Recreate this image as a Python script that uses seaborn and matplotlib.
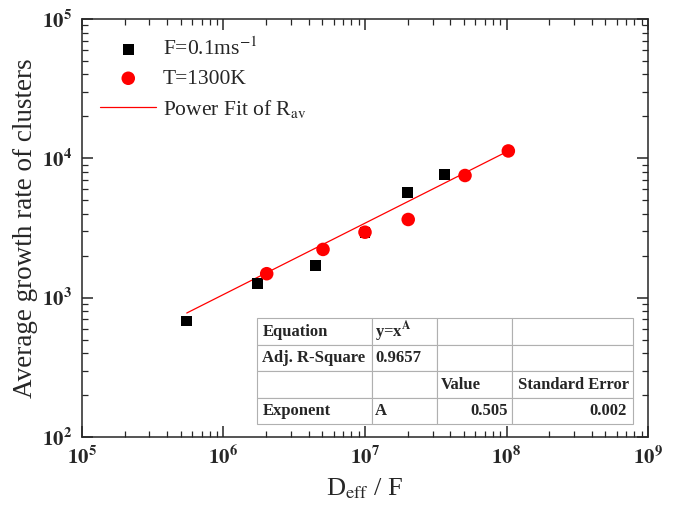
import numpy as np
import pandas as pd
import matplotlib
matplotlib.use("Agg")
import matplotlib.pyplot as plt
from matplotlib.ticker import LogLocator, FuncFormatter, NullFormatter
import seaborn as sns

# data
flux_x = [5.5e5, 1.75e6, 4.5e6, 1.0e7, 2.0e7, 3.66e7]
flux_y = [680, 1273, 1704, 2950, 5690, 7650]
temp_x = [2.02e6, 5.05e6, 1.0e7, 2.02e7, 5.09e7, 1.03e8]
temp_y = [1486, 2220, 2950, 3640, 7530, 11300]
fit_x = [5.5e5, 1.03e8]
fit_y = [776, 11300]

table_rows = [
    ["Equation", "y=x$^{\\mathbf{A}}$", "", ""],
    ["Adj. R-Square", "0.9657", "", ""],
    ["", "", "Value", "Standard Error"],
    ["Exponent", "A", "0.505", "0.002"],
]

sns.set_theme(style="ticks")
plt.rcParams.update({
    "font.family": ["Liberation Serif", "DejaVu Serif"],
    "mathtext.fontset": "stix",
    "xtick.direction": "in",
    "ytick.direction": "in",
    "xtick.top": True,
    "ytick.right": True,
})

fig = plt.figure(figsize=(6.73, 5.11), dpi=100)
ax = fig.add_axes([0.1218, 0.1448, 0.8411, 0.818])
ax.set_xscale("log")
ax.set_yscale("log")

df_f = pd.DataFrame({"x": flux_x, "y": flux_y})
df_t = pd.DataFrame({"x": temp_x, "y": temp_y})
df_fit = pd.DataFrame({"x": fit_x, "y": fit_y})

sns.lineplot(data=df_fit, x="x", y="y", color="red", linewidth=0.9,
             label="Power Fit of R$_{\\mathrm{av}}$", ax=ax, zorder=2)
sns.scatterplot(data=df_f, x="x", y="y", marker="s", color="black", s=62,
                edgecolor="none", label="F=0.1ms$^{-1}$", ax=ax, zorder=3)
sns.scatterplot(data=df_t, x="x", y="y", marker="o", color="red", s=95,
                edgecolor="none", label="T=1300K", ax=ax, zorder=4)

ax.set_xlim(1e5, 1e9)
ax.set_ylim(1e2, 1e5)

fmt = FuncFormatter(lambda v, p: r"$\mathbf{10^{%d}}$" % round(np.log10(v)))
for axis in (ax.xaxis, ax.yaxis):
    axis.set_major_locator(LogLocator(base=10, numticks=10))
    axis.set_minor_locator(LogLocator(base=10, subs=np.arange(2, 10), numticks=20))
    axis.set_major_formatter(fmt)
    axis.set_minor_formatter(NullFormatter())
ax.tick_params(which="major", length=8, width=1.1, labelsize=15, pad=7)
ax.tick_params(which="minor", length=4, width=0.9)
for sp in ax.spines.values():
    sp.set_linewidth(1.1)

ax.set_xlabel("D$_{\\mathrm{eff}}$ / F", fontsize=19, labelpad=5)
ax.set_ylabel("Average growth rate of clusters", fontsize=19.5, labelpad=3)

# legend: points first, then the fit line
h, l = ax.get_legend_handles_labels()
order = [1, 2, 0]
ax.legend([h[i] for i in order], [l[i] for i in order], loc="upper left",
          bbox_to_anchor=(0.0, 1.0), frameon=False, fontsize=15.5,
          handlelength=2.6, handletextpad=0.3, labelspacing=0.42,
          borderaxespad=0.45)

tbl = ax.table(cellText=table_rows, colWidths=[0.3056, 0.1743, 0.1985, 0.3216],
               cellLoc="left", bbox=[0.3087, 0.0304, 0.6648, 0.2536])
tbl.auto_set_font_size(False)
tbl.set_fontsize(12)
for (r, c), cell in tbl.get_celld().items():
    cell.set_edgecolor("#b0b0b0")
    cell.set_linewidth(0.8)
    cell.set_facecolor("white")
    cell.PAD = 0.05
    cell.get_text().set_fontweight("bold")
    if r == 3 and c in (2, 3):
        cell.get_text().set_ha("right")
        cell._loc = "right"

fig.savefig("out.png", dpi=100, facecolor="white")
